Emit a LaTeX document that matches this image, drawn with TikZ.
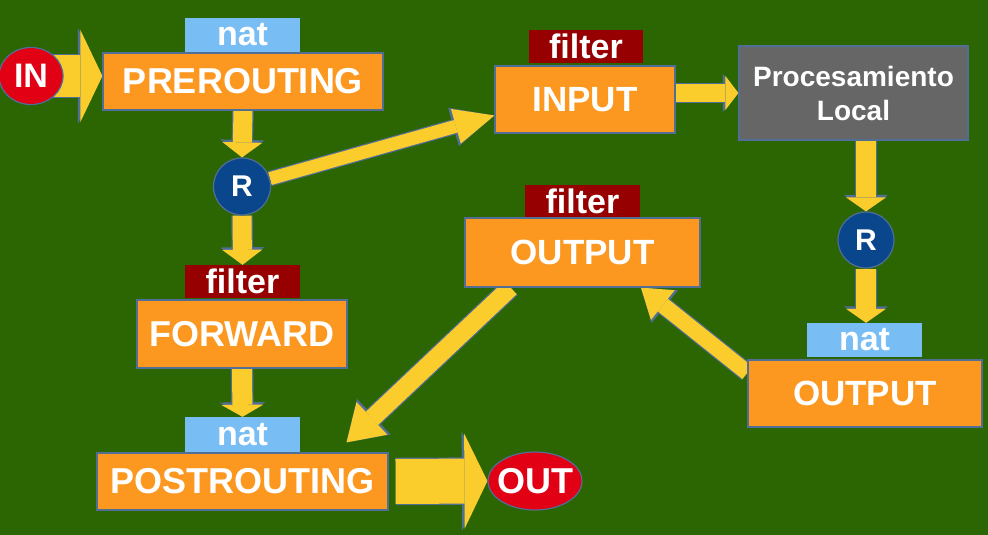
\documentclass[tikz,border=0pt]{standalone}
\usepackage{fontspec}
\setmainfont{Liberation Sans}
\usetikzlibrary{arrows.meta,shapes.geometric,calc}
\pgfdeclarelayer{bg}\pgfdeclarelayer{arr}\pgfsetlayers{bg,arr,main}
\definecolor{bggreen}{RGB}{44,102,2}
\definecolor{orng}{RGB}{252,152,32}
\definecolor{lblue}{RGB}{120,190,245}
\definecolor{dred}{RGB}{150,0,0}
\definecolor{pgray}{RGB}{102,102,102}
\definecolor{yel}{RGB}{250,205,45}
\definecolor{rred}{RGB}{225,0,20}
\definecolor{navy}{RGB}{10,70,140}
\definecolor{edge}{RGB}{80,110,150}
\tikzset{
  big/.style={font=\fontsize{36}{40}\selectfont\bfseries},
  box/.style={draw=edge, line width=1.2pt, fill=orng, text=white, inner sep=0pt, big},
  tag/.style={inner sep=0pt, text=white, font=\fontsize{34}{36}\selectfont\bfseries},
  nattag/.style={tag, fill=lblue},
  filttag/.style={tag, fill=dred},
  rnode/.style={circle, draw=edge, line width=1.2pt, fill=navy, text=white, minimum size=57pt, inner sep=0pt, font=\fontsize{30}{34}\selectfont\bfseries},
  endnode/.style={ellipse, draw=edge, line width=1.2pt, fill=rred, text=white, inner xsep=-10pt, inner ysep=-6pt, big},
  blk/.code n args={3}{%
    \pgfmathsetmacro\blkA{#1+2.4}\pgfmathsetmacro\blkB{#2+4}\pgfmathsetmacro\blkC{#3+2.5}%
    \edef\blkkeys{draw=yel, line width=#1pt, -{Triangle[width=#2pt,length=#3pt,line width=0pt]},
      preaction={draw=edge, line width=\blkA pt, -{Triangle[width=\blkB pt,length=\blkC pt,line width=0pt]}}}%
    \expandafter\pgfkeysalso\expandafter{\blkkeys}}
}
\begin{document}
\begin{tikzpicture}[x=1pt,y=-1pt]
\useasboundingbox (0,0) rectangle (988,535);
\begin{pgfonlayer}{bg}
\fill[bggreen] (0,0) rectangle (988,535);
\end{pgfonlayer}
% nodes
\node[endnode, minimum width=64pt, minimum height=57pt, font=\fontsize{34}{38}\selectfont\bfseries] (inN) at (31,76) {IN};
\node[nattag, minimum width=115pt, minimum height=34pt] (natA) at (242.5,35) {nat};
\node[box, minimum width=280pt, minimum height=57pt] (pre) at (243,81.5) {PREROUTING};
\node[rnode] (R1) at (242,186.5) {R};
\node[filttag, minimum width=114pt, minimum height=33pt] (filtI) at (586,46.5) {filter};
\node[box, minimum width=180pt, minimum height=67pt, font=\fontsize{35}{40}\selectfont\bfseries] (inp) at (585,99.5) {INPUT};
\node[box, fill=pgray, minimum width=229pt, minimum height=94pt, align=center,
      font=\fontsize{28}{34}\selectfont\bfseries] (proc) at (853.5,93) {Procesamiento\\Local};
\node[rnode, minimum size=56pt] (R2) at (866,240) {R};
\node[nattag, minimum width=115pt, minimum height=34pt] (natR) at (864.5,340) {nat};
\node[box, minimum width=234pt, minimum height=67pt, font=\fontsize{35}{40}\selectfont\bfseries] (outR) at (865,393.5) {OUTPUT};
\node[filttag, minimum width=115pt, minimum height=33pt] (filtM) at (582.5,201.5) {filter};
\node[box, minimum width=235pt, minimum height=69pt, font=\fontsize{35}{40}\selectfont\bfseries] (outM) at (582.5,252.5) {OUTPUT};
\node[filttag, minimum width=115pt, minimum height=33pt] (filtL) at (242.5,281.5) {filter};
\node[box, minimum width=210pt, minimum height=68pt] (fwd) at (242,334) {FORWARD};
\node[nattag, minimum width=115pt, minimum height=35pt] (natB) at (242.5,434.5) {nat};
\node[box, minimum width=291pt, minimum height=57pt] (post) at (242.5,481.5) {POSTROUTING};
\node[endnode, minimum width=94pt, minimum height=58pt] (outN) at (535,481) {OUT};
\coordinate (postin) at ($(post.north)+(104,-10)$);
% arrows
\begin{pgfonlayer}{arr}
\draw[blk={42}{92}{22}] (inN.center) -- (inN.center -| pre.west);
\draw[blk={19}{40}{15}] (pre.south) -- (R1.north);
\draw[blk={19}{40}{15}] (R1.south) -- (filtL.north);
\draw[blk={20}{42}{12}] (fwd.south) -- (natB.north);
\draw[blk={13}{36}{40}] (R1) -- (inp.190);
\draw[blk={17}{34}{13}] (inp.east |- proc) -- (proc.west);
\draw[blk={20}{40}{14}] (proc.south -| R2) -- (R2.north);
\draw[blk={20}{40}{14}] (R2.south) -- (R2.south |- natR.north);
\draw[blk={16}{38}{28}] (outR.170) -- (outM.-31);
\draw[blk={18}{45}{35}] (outM.206) -- (postin);
\draw[blk={45}{95}{23}, shorten <=7pt] (post.east) -- (outN.west);
\end{pgfonlayer}
\end{tikzpicture}
\end{document}
